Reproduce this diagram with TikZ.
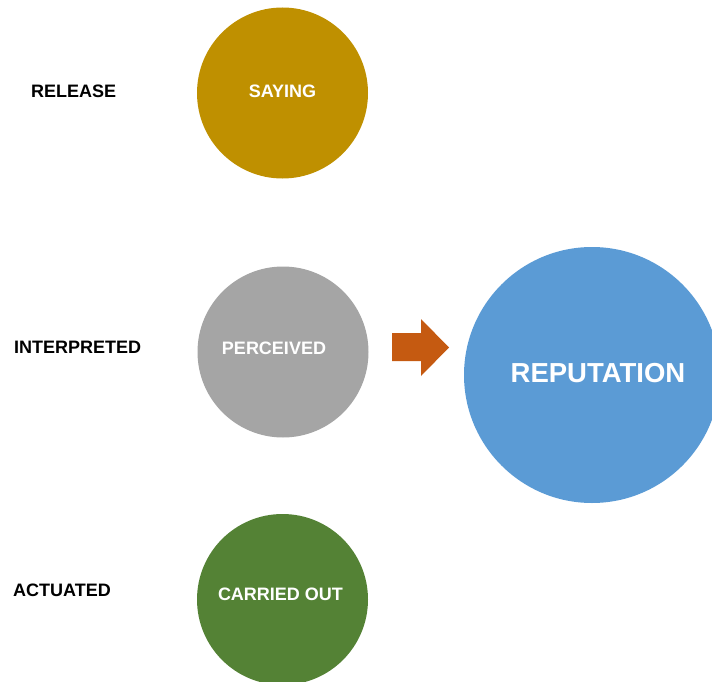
\documentclass[tikz,border=0pt]{standalone}
\usepackage{fontspec}
\setmainfont{Liberation Sans}
\definecolor{cgold}{HTML}{BF9000}
\definecolor{cgray}{HTML}{A5A5A5}
\definecolor{cgreen}{HTML}{548235}
\definecolor{cblue}{HTML}{5B9BD5}
\definecolor{corange}{HTML}{C55A11}
\begin{document}
\begin{tikzpicture}[x=1pt,y=-1pt,
  disc/.style={circle,inner sep=0pt,minimum size=171pt,text=white,font=\fontsize{18}{20}\selectfont\bfseries},
  bigdisc/.style={circle,inner sep=0pt,minimum size=256pt,fill=cblue,text=white,font=\fontsize{27.5}{30}\selectfont\bfseries},
  side/.style={anchor=west,inner sep=0pt,font=\fontsize{18}{20}\selectfont\bfseries}]
\useasboundingbox (0,0) rectangle (712,682);
\clip (0,0) rectangle (712,682);
\node[disc,fill=cgold] (saying) at (282.5,93) {\raisebox{4pt}{SAYING}};
\node[disc,fill=cgray] (perceived) at (283,352) {\hspace*{-18pt}\raisebox{8pt}{PERCEIVED}};
\node[disc,fill=cgreen] (carried) at (282.5,599.5) {\hspace*{-4pt}\raisebox{10pt}{CARRIED OUT}};
\node[bigdisc] (reputation) at (592,375) {\hspace*{12pt}\raisebox{5pt}{REPUTATION}};
\node[side] (release) at (31,91) {RELEASE};
\node[side] (interpreted) at (14,347) {INTERPRETED};
\node[side] (actuated) at (13,590) {ACTUATED};
\fill[corange] (392,333) -- (421,333) -- (421,319) -- (449,347.5) -- (421,376) -- (421,361) -- (392,361) -- cycle;
\end{tikzpicture}
\end{document}
